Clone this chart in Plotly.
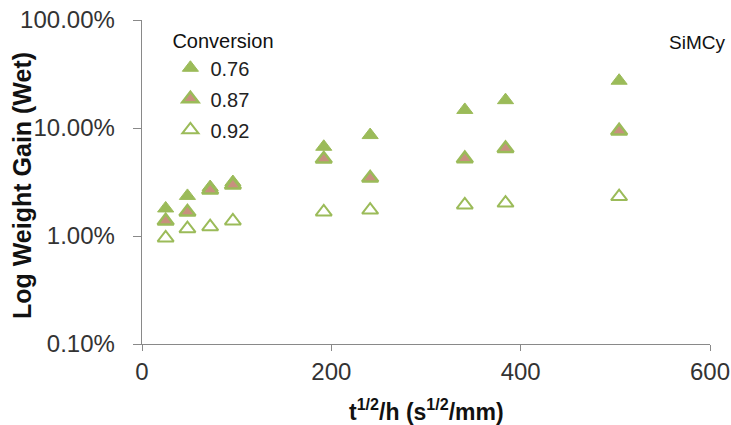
import plotly.graph_objects as go

x_vals = [25, 48, 72, 96, 192, 241, 341, 384, 504]
conv_076 = [1.80, 2.35, 2.84, 3.16, 6.7, 8.6, 14.7, 18.1, 27.4]
conv_087 = [1.38, 1.67, 2.67, 2.96, 5.17, 3.44, 5.2, 6.45, 9.4]
conv_092 = [0.96, 1.17, 1.22, 1.38, 1.67, 1.74, 1.94, 2.02, 2.32]
series_names = ["0.76", "0.87", "0.92"]
y_tickvals = [0.1, 1, 10, 100]
y_ticktext = ["0.10%", "1.00%", "10.00%", "100.00%"]
x_tickvals = [0, 200, 400, 600]

green = "#9BBB59"
pink = "#C8907E"
axis_gray = "#898989"
font_family = "Liberation Sans, Arial, sans-serif"
pad = "\u00a0\u00a0"

fig = go.Figure()
styles = [
    dict(color=green, line=dict(color=green, width=1)),
    dict(color=pink, line=dict(color=green, width=2.5)),
    dict(color="white", line=dict(color=green, width=2)),
]
for i, (name, ys) in enumerate(zip(series_names, [conv_076, conv_087, conv_092])):
    fig.add_trace(go.Scatter(
        x=x_vals, y=ys, mode="markers", name=name,
        legendgroup=name,
        marker=dict(symbol="triangle-up", size=14, **styles[i]),
    ))

fig.update_layout(
    width=731, height=425,
    margin=dict(l=142, r=21, t=20, b=81),
    paper_bgcolor="white", plot_bgcolor="white",
    font=dict(family=font_family, color="#222222"),
    showlegend=True,
    legend=dict(
        x=0.05, y=0.993, xanchor="left", yanchor="top",
        title=dict(text="Conversion", side="top", font=dict(size=20, color="#111111")),
        font=dict(size=20, color="#222222"),
        tracegroupgap=2, itemwidth=30,
        bgcolor="rgba(0,0,0,0)",
    ),
    annotations=[
        dict(text="SiMCy", xref="paper", yref="paper", x=1.03, y=0.932,
             xanchor="right", yanchor="middle", showarrow=False,
             font=dict(size=19, color="#111111", family=font_family)),
        dict(text="<b>Log Weight Gain (Wet)</b>", xref="paper", yref="paper",
             x=-0.211, y=0.488, xanchor="center", yanchor="middle",
             textangle=-90, showarrow=False,
             font=dict(size=25, color="#111111", family=font_family)),
        dict(text="<b>t<sup>1/2</sup>/h (s<sup>1/2</sup>/mm)</b>",
             xref="paper", yref="paper", x=0.5, y=-0.205,
             xanchor="center", yanchor="middle", showarrow=False,
             font=dict(size=23, color="#111111", family=font_family)),
    ],
)
fig.update_xaxes(
    range=[0, 600], tickvals=x_tickvals, ticks="outside", ticklen=6,
    tickcolor=axis_gray, showline=True, linecolor=axis_gray, linewidth=1,
    showgrid=False, zeroline=False, automargin=False,
    tickfont=dict(size=24, color="#333333"),
)
fig.update_yaxes(
    type="log", range=[-1, 2], tickvals=y_tickvals,
    ticktext=[t + pad for t in y_ticktext],
    ticks="outside", ticklen=8, tickcolor=axis_gray, showline=True,
    linecolor=axis_gray, linewidth=1, showgrid=False, zeroline=False,
    automargin=False,
    tickfont=dict(size=24, color="#333333"),
)
fig.write_html("out.html")
